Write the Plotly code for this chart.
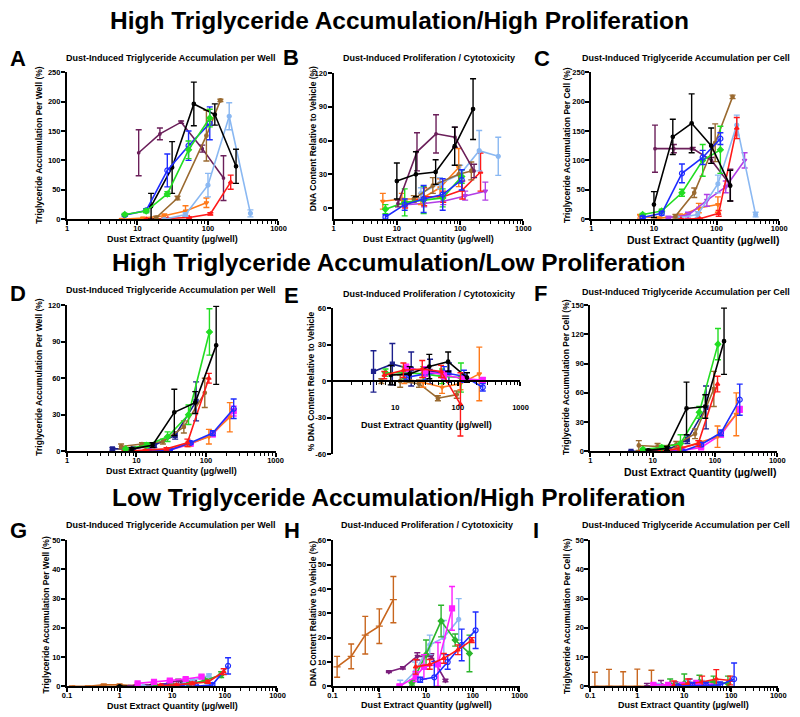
import plotly.graph_objects as go

# ---------------- DATA ----------------
# Panel A: Dust-Induced Triglyceride Accumulation per Well (%)
A_purple_x = [10.4, 20.8, 41.6, 83, 166]
A_purple_y = [113, 145, 165, 120, 70]
A_purple_e = [39, 10, 2, 6, 38]
A_black_x = [15.6, 31, 63, 125, 250]
A_black_y = [22, 88, 196, 178, 90]
A_black_e = [22, 44, 37, 18, 29]
A_blue_x = [6.6, 13.3, 26.5, 53, 106]
A_blue_y = [7, 15, 83, 125, 163]
A_blue_e = [2, 3, 28, 25, 28]
A_green_x = [6.6, 13.3, 26.5, 53, 106]
A_green_y = [8, 14, 43, 118, 172]
A_green_e = [2, 3, 4, 15, 15]
A_brown_x = [18.5, 37, 95, 150]
A_brown_y = [3, 36, 142, 202]
A_brown_e = [2, 3, 43, 2]
A_orange_x = [6, 12, 24, 48, 95]
A_orange_y = [0, 2, 6, 14, 28]
A_orange_e = [1, 1, 3, 9, 8]
A_lblue_x = [24, 48, 100, 200, 400]
A_lblue_y = [0, 8, 58, 175, 10]
A_lblue_e = [1, 3, 20, 23, 6]
A_red_x = [13.5, 27, 54, 108, 210]
A_red_y = [0, 1, 3, 9, 63]
A_red_e = [0.5, 0.5, 1, 2, 12]

# Panel B: Dust-Induced Proliferation / Cytotoxicity (DNA content %)
B_purple_x = [10.4, 20.8, 41.6, 83, 166]
B_purple_y = [4, 50, 66, 63, 33]
B_purple_e = [3, 17, 17, 9, 6]
B_black_x = [10, 20, 41, 82, 160]
B_black_y = [24, 30, 32, 55, 88]
B_black_e = [16, 20, 11, 17, 27]
B_lblue_x = [24, 48, 100, 200, 400]
B_lblue_y = [13, 22, 30, 51, 46]
B_lblue_e = [5, 5, 8, 18, 17]
B_brown_x = [18.5, 37, 95, 150]
B_brown_y = [8, 20, 30, 33]
B_brown_e = [3, 7, 8, 8]
B_orange_x = [6, 12, 24, 48, 95]
B_orange_y = [6, 8, 8, 18, 36]
B_orange_e = [7, 5, 5, 8, 17]
B_red_x = [13.5, 27, 54, 108, 210]
B_red_y = [3, 10, 10, 16, 32]
B_red_e = [3, 8, 5, 8, 17]
B_green_x = [6.6, 13.3, 26.5, 53, 106]
B_green_y = [-1, 5, 7, 9, 28]
B_green_e = [4, 12, 12, 8, 6]
B_blue_x = [6.6, 13.3, 26.5, 53, 106]
B_blue_y = [-8, 3, 8, 12, 25]
B_blue_e = [2, 5, 12, 14, 9]
B_violet_x = [13.5, 27, 54, 120, 250]
B_violet_y = [3, 4, 6, 11, 15]
B_violet_e = [2, 3, 3, 4, 8]

# Panel C: Dust-Induced Triglyceride Accumulation per Cell (%)
C_black_x = [10, 20, 40, 82, 165]
C_black_y = [25, 140, 163, 125, 57]
C_black_e = [22, 30, 50, 30, 26]
C_purple_x = [10.4, 20.8, 41.6, 83, 166]
C_purple_y = [120, 120, 120, 100, 58]
C_purple_e = [40, 7, 2, 5, 27]
C_brown_x = [22, 44, 95, 180]
C_brown_y = [5, 45, 130, 208]
C_brown_e = [3, 8, 32, 3]
C_blue_x = [6.6, 13.3, 28, 60, 115]
C_blue_y = [3, 10, 78, 105, 137]
C_blue_e = [2, 3, 16, 12, 10]
C_green_x = [6.6, 13.3, 28, 60, 115]
C_green_y = [8, 14, 45, 100, 118]
C_green_e = [2, 3, 6, 27, 40]
C_orange_x = [6, 12, 26, 52, 105]
C_orange_y = [5, 2, 5, 19, 25]
C_orange_e = [3, 2, 4, 8, 13]
C_violet_x = [17, 35, 70, 140, 280]
C_violet_y = [3, 7, 32, 55, 100]
C_violet_e = [2, 5, 10, 10, 13]
C_lblue_x = [24, 50, 105, 210, 420]
C_lblue_y = [2, 8, 60, 160, 8]
C_lblue_e = [1, 5, 15, 17, 4]
C_red_x = [27, 54, 108, 210]
C_red_y = [0, 1, 10, 155]
C_red_e = [0.5, 1, 5, 18]

# Panel D: Triglyceride Accumulation per Well (%)
D_green_x = [7, 14, 28, 56, 112]
D_green_y = [2, 5, 12, 30, 98]
D_green_e = [1, 2, 4, 8, 19]
D_black_x = [8.5, 17, 35, 70, 140]
D_black_y = [2, 5, 32, 40, 87]
D_black_e = [1, 2, 19, 9, 32]
D_brown_x = [6, 12, 24, 48, 96]
D_brown_y = [4, 6, 8, 20, 48]
D_brown_e = [2, 1, 2, 5, 12]
D_navy_x = [4.5, 9, 18, 36, 72]
D_navy_y = [2, 2, 5, 13, 41]
D_navy_e = [1, 1, 2, 3, 16]
D_red_x = [6.7, 13.5, 27, 54, 110]
D_red_y = [0, 1, 2, 7, 60]
D_red_e = [0.5, 0.5, 1, 3, 4]
D_blue_x = [15, 30, 60, 125, 250]
D_blue_y = [0, 1, 7, 15, 35]
D_blue_e = [0.5, 0.5, 1, 2, 8]
D_orange_x = [14, 28, 56, 110, 220]
D_orange_y = [0.5, 1, 6, 12, 28]
D_orange_e = [0.5, 1, 2, 6, 12]
D_magenta_x = [15, 30, 60, 125, 250]
D_magenta_y = [0, 1, 6, 14, 33]
D_magenta_e = [0.5, 0.5, 1, 2, 4]

# Panel E: % DNA Content Relative to Vehicle
E_navy_x = [4.5, 9, 18, 36, 72]
E_navy_y = [8, 14, 10, 8, 7]
E_navy_e = [17, 17, 14, 10, 8]
E_black_x = [8.5, 17, 35, 70, 140]
E_black_y = [5, 6, 12, 16, 3]
E_black_e = [8, 6, 10, 8, 4]
E_red_x = [6.7, 13.5, 27, 54, 110]
E_red_y = [5, 9, 10, 8, -19]
E_red_e = [3, 6, 7, 5, 26]
E_brown_x = [6, 12, 24, 48, 96]
E_brown_y = [0, 0, -2, -14, -11]
E_brown_e = [2, 5, 3, 2, 3]
E_orange_x = [14, 28, 56, 110, 220]
E_orange_y = [2, -1, -5, -2, 6]
E_orange_e = [4, 4, 5, 5, 22]
E_green_x = [7, 14, 28, 56, 112]
E_green_y = [7, 7, 6, 4, 3]
E_green_e = [3, 5, 6, 6, 12]
E_blue_x = [15, 30, 60, 125, 250]
E_blue_y = [3, 6, 7, 4, -5]
E_blue_e = [3, 5, 5, 5, 3]
E_magenta_x = [15, 30, 60, 125, 250]
E_magenta_y = [11, 8, 5, 2, 1]
E_magenta_e = [3, 4, 3, 2, 2]

# Panel F: Triglyceride Accumulation per Cell (%)
F_black_x = [8.5, 17, 35, 70, 140]
F_black_y = [1, 3, 44, 46, 113]
F_black_e = [1, 2, 27, 12, 34]
F_green_x = [7, 14, 28, 56, 112]
F_green_y = [2, 4, 8, 40, 110]
F_green_e = [1, 2, 9, 6, 16]
F_brown_x = [6, 12, 24, 48, 96]
F_brown_y = [6, 5, 7, 18, 64]
F_brown_e = [5, 3, 3, 5, 18]
F_navy_x = [4.5, 9, 18, 36, 72]
F_navy_y = [0, 0, 2, 12, 45]
F_navy_e = [0.5, 0.5, 1, 4, 22]
F_red_x = [6.7, 13.5, 27, 54, 110]
F_red_y = [0, 0, 3, 8, 69]
F_red_e = [0.5, 0.5, 3, 3, 8]
F_blue_x = [15, 30, 60, 125, 250]
F_blue_y = [0, 0, 7, 19, 53]
F_blue_e = [0.5, 1, 2, 3, 16]
F_orange_x = [14, 28, 56, 110, 220]
F_orange_y = [0.5, 3, 9, 15, 38]
F_orange_e = [0.5, 2, 2, 11, 22]
F_magenta_x = [15, 30, 60, 125, 250]
F_magenta_y = [0, 1, 4, 17, 43]
F_magenta_e = [0.5, 0.5, 1, 2, 3]

# Panel G: Triglyceride Accumulation per Well (%)
G_borange_x = [0.125, 0.25, 0.5, 1, 2]
G_borange_y = [0, 0, 0.5, 0.5, 0.2]
G_borange_e = [0.1, 0.1, 0.3, 0.3, 0.2]
G_black_x = [1, 2, 4, 8, 16]
G_black_y = [0, 0, 0.2, 0.5, 1]
G_black_e = [0.1, 0.1, 0.2, 0.3, 0.3]
G_magenta_x = [2.2, 4.5, 9, 18, 36]
G_magenta_y = [1, 1.5, 2, 2.5, 3.3]
G_magenta_e = [0.3, 0.3, 0.4, 0.4, 0.5]
G_purple_x = [1.6, 3.2, 6.5, 13, 26]
G_purple_y = [0, 0.2, 0.5, 2, 1.5]
G_purple_e = [0.2, 0.2, 0.3, 0.4, 0.4]
G_red_x = [6, 12, 24, 48, 95]
G_red_y = [0.3, 0.5, 1, 1.5, 5]
G_red_e = [0.3, 0.3, 0.5, 0.5, 1]
G_blue_x = [7.5, 15, 29, 58, 115]
G_blue_y = [0, 0, 0, 0.5, 7]
G_blue_e = [0.2, 0.2, 0.2, 0.5, 2.8]
G_green_x = [5, 10, 21, 42, 85]
G_green_y = [0, 0.3, 0.8, 2, 4]
G_green_e = [0.2, 0.3, 0.5, 0.5, 1]
G_lblue_x = [2.8, 5.8, 12, 24, 50]
G_lblue_y = [0, 0, 0.5, 2, 3.7]
G_lblue_e = [0.2, 0.2, 0.3, 0.5, 0.5]

# Panel H: DNA Content Relative to Vehicle (%)
H_borange_x = [0.125, 0.25, 0.5, 1, 2]
H_borange_y = [8, 12.3, 21, 24.7, 35.6]
H_borange_e = [4.3, 5.1, 7.7, 7.1, 9.5]
H_purple_x = [1.6, 3.2, 6.5, 13, 26]
H_purple_y = [6, 7.6, 12.3, 12.4, 2.4]
H_purple_e = [0.3, 0.5, 1.5, 1, 0.5]
H_lblue_x = [2.8, 5.8, 12, 24, 50]
H_lblue_y = [0, 6, 17, 20, 27.5]
H_lblue_e = [2.5, 4, 4, 7, 8.5]
H_green_x = [5, 10, 21, 42, 85]
H_green_y = [1.5, 13, 26.8, 19, 13.5]
H_green_e = [1, 6, 6.5, 2.5, 7.5]
H_magenta_x = [2.7, 6, 9, 18, 36]
H_magenta_y = [0, 4, 8, 9, 32]
H_magenta_e = [0.5, 2, 5, 9, 9]
H_red_x = [6, 12, 24, 48, 95]
H_red_y = [8, 9, 11.5, 15, 19]
H_red_e = [3, 2, 2, 2, 1]
H_blue_x = [7.5, 15, 29, 58, 115]
H_blue_y = [2.7, 3.7, 10, 17, 23]
H_blue_e = [1, 6.5, 3, 6.5, 7.5]

# Panel I: Triglyceride Accumulation per Cell (%)
I_borange_x = [0.125, 0.25, 0.5, 1, 2]
I_borange_y = [0, 0, 0, 0, 0]
I_borange_e = [4.8, 5.8, 5, 5.9, 5.5]
I_purple_x = [1.6, 3.2, 6.5, 13, 26]
I_purple_y = [0, 0.5, 0.5, 1, 0.5]
I_purple_e = [1, 1.5, 1, 1.5, 1]
I_magenta_x = [2.2, 4.5, 9, 18, 36]
I_magenta_y = [0.5, 0.5, 0.5, 1, 0]
I_magenta_e = [0.5, 0.5, 0.5, 1, 0.5]
I_lblue_x = [2.8, 5.8, 12, 24, 50]
I_lblue_y = [0, 0, 0.5, 0.5, 0]
I_lblue_e = [1, 1, 1.5, 1.5, 1]
I_green_x = [5, 10, 21, 42, 85]
I_green_y = [0.5, 1, 1.5, 1.5, 1]
I_green_e = [2, 3.2, 2.3, 2, 2.5]
I_red_x = [6, 12, 24, 48, 95]
I_red_y = [0.3, 1, 1.5, 2.5, 2]
I_red_e = [1.5, 1.5, 2, 3.2, 1.5]
I_blue_x = [7.5, 15, 29, 58, 115]
I_blue_y = [0, 0.3, 0.3, 0.5, 2.5]
I_blue_e = [0.5, 1, 1, 1, 5.5]

ROW_TITLES = ["High Triglyceride Accumulation/High Proliferation",
              "High Triglyceride Accumulation/Low Proliferation",
              "Low Triglyceride Accumulation/High Proliferation"]
TITLE_WELL = "Dust-Induced Triglyceride Accumulation per Well"
TITLE_PROLIF = "Dust-Induced Proliferation / Cytotoxicity"
TITLE_CELL = "Dust-Induced Triglyceride Accumulation per Cell"
YT_WELL = "Triglyceride Accumulation Per Well (%)"
YT_CELL = "Triglyceride Accumulation Per Cell (%)"
YT_DNA = "DNA Content Relative to Vehicle (%)"
YT_DNA_E = "% DNA Content Relative to Vehicle"
XT = "Dust Extract Quantity (µg/well)"

# ---------------- STYLE ----------------
W, H = 800, 717
COL = {
    "purple": "#6b1f5a", "black": "#000000", "blue": "#1f2cff", "green": "#22dd22",
    "brown": "#9a6a30", "orange": "#ff7a1a", "lblue": "#8ab8f2", "red": "#ff1a1a",
    "violet": "#b13ee6", "navy": "#1c1f8c", "magenta": "#ff1fff", "borange": "#c8661e",
    "hgreen": "#2cb52c", "hpurple": "#7b1f7b",
}
SYM = {
    "purple": "circle", "black": "circle", "blue": "circle-open", "green": "diamond",
    "brown": "circle", "orange": "triangle-down", "lblue": "circle", "red": "triangle-up",
    "violet": "triangle-down", "navy": "square", "magenta": "square", "borange": "line-ew-open",
    "hgreen": "diamond", "hpurple": "triangle-down",
}
MSIZE = {"purple": 2.5, "black": 3.5, "blue": 5, "green": 4.5, "brown": 3.5, "orange": 4,
         "lblue": 4, "red": 4, "violet": 4, "navy": 4, "magenta": 5, "borange": 5,
         "hgreen": 4.5, "hpurple": 4}
FONT = "Liberation Sans, Arial, sans-serif"

# panel geometry (pixels)
PANELS = [
    dict(n="A", x0=63, x1=278, top=69, bot=218, xr=[0, 3], yr=[0, 250], yt=[0, 50, 100, 150, 200, 250]),
    dict(n="B", x0=334, x1=527, top=70, bot=218, xr=[0, 3], yr=[-10, 120], yt=[0, 30, 60, 90, 120]),
    dict(n="C", x0=596, x1=787, top=69, bot=218, xr=[0, 3], yr=[0, 250], yt=[0, 50, 100, 150, 200, 250]),
    dict(n="D", x0=63, x1=275, top=305, bot=453, xr=[0, 3], yr=[0, 120], yt=[0, 30, 60, 90, 120]),
    dict(n="E", x0=333, x1=524, top=308, bot=456, xr=[0, 3], yr=[-60, 60], yt=[-60, -30, 0, 30, 60]),
    dict(n="F", x0=595, x1=785, top=305, bot=453, xr=[0, 3], yr=[0, 150], yt=[0, 30, 60, 90, 120, 150]),
    dict(n="G", x0=63, x1=277, top=543, bot=691, xr=[-1, 3], yr=[0, 50], yt=[0, 10, 20, 30, 40, 50]),
    dict(n="H", x0=333, x1=523, top=543, bot=691, xr=[-1, 3], yr=[0, 60], yt=[0, 10, 20, 30, 40, 50, 60]),
    dict(n="I", x0=595, x1=786, top=543, bot=691, xr=[-1, 3], yr=[0, 50], yt=[0, 10, 20, 30, 40, 50]),
]

SERIES = [
    [("purple", A_purple_x, A_purple_y, A_purple_e), ("orange", A_orange_x, A_orange_y, A_orange_e),
     ("red", A_red_x, A_red_y, A_red_e), ("lblue", A_lblue_x, A_lblue_y, A_lblue_e),
     ("brown", A_brown_x, A_brown_y, A_brown_e), ("black", A_black_x, A_black_y, A_black_e),
     ("blue", A_blue_x, A_blue_y, A_blue_e), ("green", A_green_x, A_green_y, A_green_e)],
    [("violet", B_violet_x, B_violet_y, B_violet_e), ("orange", B_orange_x, B_orange_y, B_orange_e),
     ("red", B_red_x, B_red_y, B_red_e), ("lblue", B_lblue_x, B_lblue_y, B_lblue_e),
     ("brown", B_brown_x, B_brown_y, B_brown_e), ("green", B_green_x, B_green_y, B_green_e),
     ("blue", B_blue_x, B_blue_y, B_blue_e), ("purple", B_purple_x, B_purple_y, B_purple_e),
     ("black", B_black_x, B_black_y, B_black_e)],
    [("orange", C_orange_x, C_orange_y, C_orange_e), ("violet", C_violet_x, C_violet_y, C_violet_e),
     ("lblue", C_lblue_x, C_lblue_y, C_lblue_e), ("red", C_red_x, C_red_y, C_red_e),
     ("brown", C_brown_x, C_brown_y, C_brown_e), ("purple", C_purple_x, C_purple_y, C_purple_e),
     ("green", C_green_x, C_green_y, C_green_e), ("blue", C_blue_x, C_blue_y, C_blue_e),
     ("black", C_black_x, C_black_y, C_black_e)],
    [("navy", D_navy_x, D_navy_y, D_navy_e), ("brown", D_brown_x, D_brown_y, D_brown_e),
     ("magenta", D_magenta_x, D_magenta_y, D_magenta_e), ("orange", D_orange_x, D_orange_y, D_orange_e),
     ("blue", D_blue_x, D_blue_y, D_blue_e), ("red", D_red_x, D_red_y, D_red_e),
     ("green", D_green_x, D_green_y, D_green_e), ("black", D_black_x, D_black_y, D_black_e)],
    [("navy", E_navy_x, E_navy_y, E_navy_e), ("brown", E_brown_x, E_brown_y, E_brown_e),
     ("orange", E_orange_x, E_orange_y, E_orange_e), ("green", E_green_x, E_green_y, E_green_e),
     ("blue", E_blue_x, E_blue_y, E_blue_e), ("magenta", E_magenta_x, E_magenta_y, E_magenta_e),
     ("black", E_black_x, E_black_y, E_black_e), ("red", E_red_x, E_red_y, E_red_e)],
    [("navy", F_navy_x, F_navy_y, F_navy_e), ("brown", F_brown_x, F_brown_y, F_brown_e),
     ("magenta", F_magenta_x, F_magenta_y, F_magenta_e), ("orange", F_orange_x, F_orange_y, F_orange_e),
     ("blue", F_blue_x, F_blue_y, F_blue_e), ("red", F_red_x, F_red_y, F_red_e),
     ("green", F_green_x, F_green_y, F_green_e), ("black", F_black_x, F_black_y, F_black_e)],
    [("borange", G_borange_x, G_borange_y, G_borange_e), ("black", G_black_x, G_black_y, G_black_e),
     ("hpurple", G_purple_x, G_purple_y, G_purple_e), ("lblue", G_lblue_x, G_lblue_y, G_lblue_e),
     ("hgreen", G_green_x, G_green_y, G_green_e), ("magenta", G_magenta_x, G_magenta_y, G_magenta_e),
     ("blue", G_blue_x, G_blue_y, G_blue_e), ("red", G_red_x, G_red_y, G_red_e)],
    [("borange", H_borange_x, H_borange_y, H_borange_e), ("hpurple", H_purple_x, H_purple_y, H_purple_e),
     ("lblue", H_lblue_x, H_lblue_y, H_lblue_e), ("hgreen", H_green_x, H_green_y, H_green_e),
     ("magenta", H_magenta_x, H_magenta_y, H_magenta_e), ("blue", H_blue_x, H_blue_y, H_blue_e),
     ("red", H_red_x, H_red_y, H_red_e)],
    [("borange", I_borange_x, I_borange_y, I_borange_e), ("hpurple", I_purple_x, I_purple_y, I_purple_e),
     ("lblue", I_lblue_x, I_lblue_y, I_lblue_e), ("hgreen", I_green_x, I_green_y, I_green_e),
     ("magenta", I_magenta_x, I_magenta_y, I_magenta_e), ("red", I_red_x, I_red_y, I_red_e),
     ("blue", I_blue_x, I_blue_y, I_blue_e)],
]

PANEL_TITLES = [TITLE_WELL, TITLE_PROLIF, TITLE_CELL] * 3
Y_TITLES = [YT_WELL, YT_DNA, YT_CELL, YT_WELL, YT_DNA_E, YT_CELL, YT_WELL, YT_DNA, YT_CELL]
# annotation placements (pixel centres)
LETTER_POS = [(13, 55), (291, 54), (546, 55), (13, 293), (291, 295), (544, 293), (14, 533), (292, 533), (540, 533)]
TITLE_POS = [(169, 55), (431, 55), (692, 55), (169, 290), (431, 294), (692, 292), (169, 528), (429, 528), (692, 528)]
YT_POS = [(35, 143), (313, 136), (571, 143), (35, 378), (311, 382), (571, 378), (42, 619), (313, 617), (572, 620)]
XT_POS = [(170, 238), (431, 238), (710, 239), (169, 473), (428, 426), (707, 474), (170, 711), (428, 710), (690, 710)]
XT_SIZE = [9, 9, 10.5, 9, 9, 10.5, 9, 9, 9]


def px(x):
    return x / W


def py(y):
    return 1 - y / H


fig = go.Figure()
tickfont = dict(family=FONT, size=7.5, color="black", weight="bold")

for i, p in enumerate(PANELS):
    sfx = "" if i == 0 else str(i + 1)
    lo, hi = p["xr"]
    major = [10 ** k for k in range(lo, hi + 1)]
    labels = ["0.1" if v < 1 else str(int(v)) for v in major]
    minor = [m * 10 ** k for k in range(lo, hi) for m in range(2, 10)]
    xa = dict(domain=[px(p["x0"]), px(p["x1"])], type="log", range=p["xr"],
              tickmode="array", tickvals=major, ticktext=labels,
              showline=True, linewidth=2, linecolor="black", mirror=False,
              ticks="outside", ticklen=4, tickwidth=1.5, tickcolor="black",
              showgrid=False, zeroline=False, tickfont=tickfont, ticklabelstandoff=-3,
              minor=dict(tickmode="array", tickvals=minor, ticks="outside", ticklen=2.5,
                         tickwidth=1, tickcolor="black", showgrid=False))
    if p["n"] == "E":
        mid = (p["top"] + p["bot"]) / 2
        xa.update(anchor="free", position=py(mid), tickvals=major[1:], ticktext=labels[1:],
                  ticklabelstandoff=15)
    else:
        xa.update(anchor="y" + sfx)
    ya = dict(domain=[py(p["bot"]), py(p["top"])], range=p["yr"], anchor="x" + sfx,
              tickmode="array", tickvals=p["yt"], ticktext=[str(v) for v in p["yt"]],
              showline=True, linewidth=2, linecolor="black",
              ticks="outside", ticklen=4, tickwidth=1.5, tickcolor="black",
              showgrid=False, zeroline=False, tickfont=tickfont, ticklabelstandoff=-1)
    fig.layout["xaxis" + sfx] = xa
    fig.layout["yaxis" + sfx] = ya

    for key, xs, ys, es in SERIES[i]:
        c = COL[key]
        fig.add_trace(go.Scatter(
            x=xs, y=ys, mode="lines+markers", xaxis="x" + sfx, yaxis="y" + sfx,
            line=dict(color=c, width=1.6),
            marker=dict(color=c, symbol=SYM[key], size=MSIZE[key], line=dict(color=c, width=1.2)),
            error_y=dict(type="data", array=es, visible=True, color=c, thickness=1.4, width=3),
            showlegend=False, hoverinfo="skip"))

ann = []
for r, t in enumerate(ROW_TITLES):
    ann.append(dict(text=t, x=px(401), y=py([17, 262, 500][r]), xref="paper", yref="paper",
                    showarrow=False, xanchor="center", yanchor="middle",
                    font=dict(family=FONT, size=24.5, color="black", weight="bold")))
for i, p in enumerate(PANELS):
    lx, ly = LETTER_POS[i]
    ann.append(dict(text=p["n"], x=px(lx), y=py(ly), xref="paper", yref="paper", showarrow=False,
                    xanchor="center", yanchor="middle",
                    font=dict(family=FONT, size=22, color="black", weight="bold")))
    tx, ty = TITLE_POS[i]
    ann.append(dict(text=PANEL_TITLES[i], x=px(tx), y=py(ty), xref="paper", yref="paper",
                    showarrow=False, xanchor="center", yanchor="middle",
                    font=dict(family=FONT, size=9, color="black", weight="bold")))
    yx, yy = YT_POS[i]
    ann.append(dict(text=Y_TITLES[i], x=px(yx), y=py(yy), xref="paper", yref="paper",
                    showarrow=False, xanchor="center", yanchor="middle", textangle=-90,
                    font=dict(family=FONT, size=8.5, color="black", weight="bold")))
    xx, xy = XT_POS[i]
    ann.append(dict(text=XT, x=px(xx), y=py(xy), xref="paper", yref="paper",
                    showarrow=False, xanchor="center", yanchor="middle",
                    font=dict(family=FONT, size=XT_SIZE[i], color="black", weight="bold")))

fig.update_layout(width=W, height=H, margin=dict(l=0, r=0, t=0, b=0),
                  paper_bgcolor="white", plot_bgcolor="white", annotations=ann,
                  font=dict(family=FONT, color="black"))

fig.write_html("out.html", config={"displayModeBar": False},
               post_script="document.body.style.margin='0';document.body.style.overflow='hidden';")
